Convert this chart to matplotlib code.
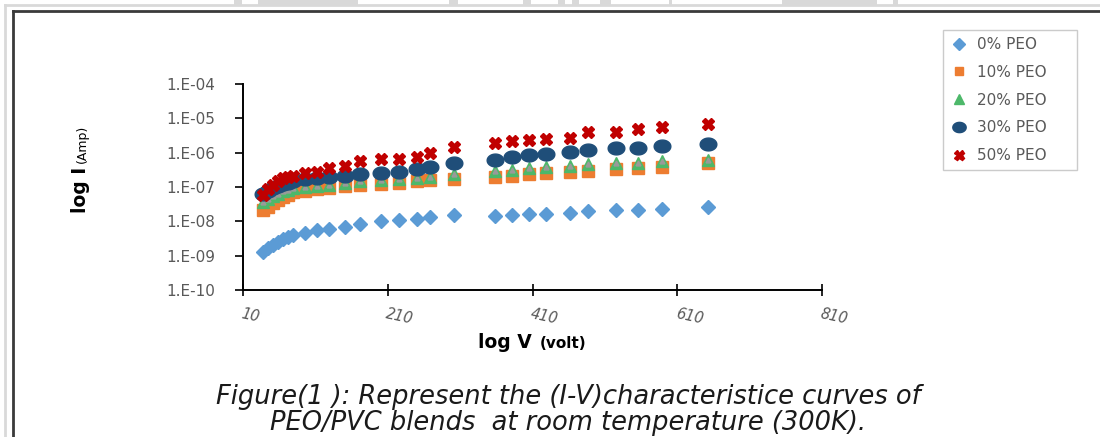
import matplotlib
matplotlib.use("Agg")
import matplotlib.pyplot as plt
from matplotlib.lines import Line2D
from matplotlib.patches import Rectangle
from matplotlib.path import Path
import numpy as np

# ---------------- data ----------------
voltage = [38, 45, 52, 58, 65, 72, 79, 96, 112, 129, 151, 171, 200, 225, 250,
           269, 302, 358, 381, 405, 429, 462, 487, 526, 556, 589, 653]

peo_0 = [1.29e-9, 1.66e-9, 2.04e-9, 2.51e-9, 3.09e-9, 3.55e-9, 3.98e-9, 4.68e-9,
         5.50e-9, 6.03e-9, 6.92e-9, 8.13e-9, 1.00e-8, 1.12e-8, 1.20e-8, 1.35e-8,
         1.48e-8, 1.41e-8, 1.48e-8, 1.66e-8, 1.66e-8, 1.78e-8, 1.95e-8, 2.14e-8,
         2.14e-8, 2.34e-8, 2.69e-8]
peo_10 = [2.14e-8, 2.63e-8, 3.31e-8, 4.17e-8, 5.01e-8, 6.03e-8, 6.92e-8, 7.59e-8,
          8.71e-8, 9.55e-8, 1.10e-7, 1.17e-7, 1.26e-7, 1.35e-7, 1.45e-7, 1.55e-7,
          1.70e-7, 2.00e-7, 2.09e-7, 2.34e-7, 2.51e-7, 2.75e-7, 2.95e-7, 3.24e-7,
          3.47e-7, 3.89e-7, 4.90e-7]
peo_20 = [3.72e-8, 4.47e-8, 5.37e-8, 6.31e-8, 7.41e-8, 8.32e-8, 9.12e-8, 9.77e-8,
          1.07e-7, 1.17e-7, 1.32e-7, 1.45e-7, 1.58e-7, 1.74e-7, 1.86e-7, 2.00e-7,
          2.40e-7, 3.02e-7, 3.16e-7, 3.63e-7, 3.80e-7, 4.17e-7, 4.68e-7, 5.01e-7,
          5.13e-7, 5.62e-7, 6.17e-7]
peo_30 = [6.17e-8, 7.59e-8, 9.12e-8, 1.07e-7, 1.20e-7, 1.35e-7, 1.45e-7, 1.66e-7,
          1.86e-7, 2.00e-7, 2.14e-7, 2.40e-7, 2.51e-7, 2.82e-7, 3.31e-7, 3.89e-7,
          5.13e-7, 6.17e-7, 7.59e-7, 8.51e-7, 8.91e-7, 1.02e-6, 1.20e-6, 1.35e-6,
          1.41e-6, 1.58e-6, 1.74e-6]
peo_50 = [5.89e-8, 8.91e-8, 1.17e-7, 1.51e-7, 1.82e-7, 2.00e-7, 2.09e-7, 2.51e-7,
          2.82e-7, 3.47e-7, 4.07e-7, 5.75e-7, 6.61e-7, 6.61e-7, 7.24e-7, 9.55e-7,
          1.48e-6, 1.95e-6, 2.19e-6, 2.34e-6, 2.57e-6, 2.75e-6, 3.89e-6, 3.89e-6,
          4.79e-6, 5.75e-6, 6.76e-6]

series_labels = ["0% PEO", "10% PEO", "20% PEO", "30% PEO", "50% PEO"]
x_ticks = [10, 210, 410, 610, 810]
x_tick_labels = ["10", "210", "410", "610", "810"]
y_ticks = [1e-10, 1e-9, 1e-8, 1e-7, 1e-6, 1e-5, 1e-4]
y_tick_labels = ["1.E-10", "1.E-09", "1.E-08", "1.E-07", "1.E-06", "1.E-05", "1.E-04"]

# ---------------- figure ----------------
W, H = 1100, 437
fig = plt.figure(figsize=(W / 100, H / 100), dpi=100)
fig.patch.set_facecolor("white")

def fx(px):
    return px / W

def fy(py):
    return 1 - py / H

ax = fig.add_axes([fx(243), fy(290), fx(822) - fx(243), fy(84) - fy(290)])
ax.set_yscale("log")
ax.set_xlim(10, 810)
ax.set_ylim(1e-10, 1e-4)

# wide ellipse marker (stretched circle as in the reference)
t = np.linspace(0, 2 * np.pi, 60)
ellipse = Path(np.column_stack([1.3 * np.cos(t), np.sin(t)]), closed=True)

c0, c10, c20, c30, c50 = "#5B9BD5", "#ED7D31", "#4DB86A", "#1F4E79", "#C00000"

ax.plot(voltage, peo_0, ls="none", marker="D", ms=7.5, mfc=c0, mec=c0, label=series_labels[0], zorder=3)
ax.plot(voltage, peo_10, ls="none", marker="s", ms=8, mfc=c10, mec=c10, label=series_labels[1], zorder=3)
ax.plot(voltage, peo_20, ls="none", marker="^", ms=9, mfc=c20, mec=c20, label=series_labels[2], zorder=4)
ax.plot(voltage, peo_20, ls="none", marker="^", ms=3.5, mfc="#9a9a9a", mec="#9a9a9a", zorder=4.1)
ax.plot(voltage, peo_30, ls="none", marker=ellipse, ms=12, mfc=c30, mec=c30, label=series_labels[3], zorder=5)
ax.plot(voltage, peo_50, ls="none", marker="X", ms=9, mfc=c50, mec=c50, label=series_labels[4], zorder=6)

for s in ["top", "right"]:
    ax.spines[s].set_visible(False)
for s in ["left", "bottom"]:
    ax.spines[s].set_linewidth(1.4)
    ax.spines[s].set_color("#000000")

ax.set_yticks(y_ticks)
ax.set_yticklabels(y_tick_labels)
ax.yaxis.set_minor_locator(matplotlib.ticker.NullLocator())
ax.tick_params(axis="y", direction="out", length=6, width=1.2, colors="#000000",
               labelcolor="#595959", labelsize=11, pad=14)
ax.set_xticks(x_ticks)
ax.set_xticklabels(x_tick_labels)
ax.tick_params(axis="x", direction="inout", length=9, width=1.2, colors="#000000",
               labelcolor="#595959", labelsize=10.5, pad=7)
for lbl in ax.get_xticklabels():
    lbl.set_rotation(-12)
    lbl.set_rotation_mode("anchor")
    lbl.set_ha("left")
    lbl.set_va("top")
    lbl.set_fontstyle("italic")

fig.canvas.draw()
r = fig.canvas.get_renderer()

# axis titles
ylab1 = fig.text(fx(86), fy(213), "log I", rotation=90, rotation_mode="anchor",
                 ha="left", va="baseline", fontsize=13.5, fontweight="bold", color="#000000")
h1 = ylab1.get_window_extent(r).height
fig.text(fx(86), fy(213 - h1 - 4), "(Amp)", rotation=90, rotation_mode="anchor",
         ha="left", va="baseline", fontsize=9, color="#000000")

xl1 = fig.text(0, fy(348), "log V", ha="left", va="baseline", fontsize=13.5,
               fontweight="bold", color="#000000")
xl2 = fig.text(0, fy(348), "(volt)", ha="left", va="baseline", fontsize=11,
               fontweight="bold", color="#000000")
w1 = xl1.get_window_extent(r).width
w2 = xl2.get_window_extent(r).width
gap = 8
start = 532 - (w1 + gap + w2) / 2
xl1.set_x(fx(start))
xl2.set_x(fx(start + w1 + gap))

# legend
leg = fig.legend(loc="upper left", bbox_to_anchor=(fx(943), fy(170), fx(134), 140 / H),
                 mode="expand", frameon=True, fancybox=False, edgecolor="#bfbfbf",
                 fontsize=11, labelcolor="#595959", labelspacing=0.84,
                 handlelength=1.2, handletextpad=0.6, borderpad=0.45,
                 borderaxespad=0, markerscale=0.8)
leg.get_frame().set_linewidth(1.0)

# caption
cap_kw = dict(ha="center", va="baseline", fontstyle="italic", family="DejaVu Sans",
              color="#1a1a1a")
cap1 = fig.text(fx(568), fy(404), "Figure(1 ): Represent the (I-V)characteristice curves of",
                fontsize=17, **cap_kw)
cap2 = fig.text(fx(568), fy(430), "PEO/PVC blends  at room temperature (300K).",
                fontsize=17, **cap_kw)
wc = cap1.get_window_extent(r).width
size = min(17 * 813.0 / wc, 18.5)
for c in (cap1, cap2):
    c.set_fontsize(size)

# frame lines / artifacts around the picture
fig.add_artist(Line2D([fx(5), fx(5)], [fy(5), 0], color="#d9d9d9", lw=2))
fig.add_artist(Line2D([fx(5), 1], [fy(5), fy(5)], color="#d9d9d9", lw=2))
fig.add_artist(Line2D([fx(13), fx(13)], [fy(11), 0], color="#3a3a3a", lw=2))
fig.add_artist(Line2D([fx(13), 1], [fy(11), fy(11)], color="#3a3a3a", lw=2))
for x0, x1 in [(234, 242), (258, 358), (449, 458), (523, 531), (558, 565), (572, 579),
               (600, 611), (669, 672), (782, 877), (893, 898)]:
    fig.add_artist(Rectangle((fx(x0), fy(5)), fx(x1 - x0), 5 / H, color="#d9d9d9", lw=0))

fig.savefig("out.png", dpi=100)
